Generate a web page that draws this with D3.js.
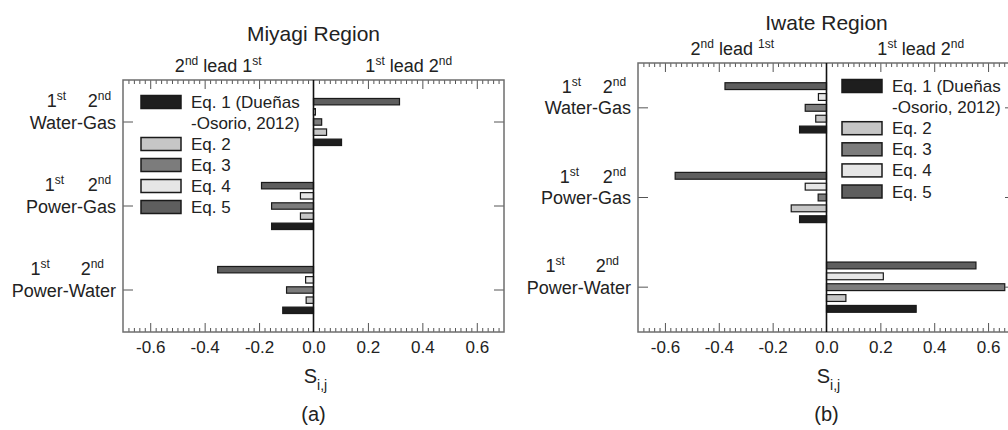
<!DOCTYPE html>
<html><head><meta charset="utf-8">
<script src="https://cdn.jsdelivr.net/npm/d3@7"></script>
<style>
body{margin:0;background:#fff}
svg{display:block}
text{font-family:"Liberation Sans",Arial,Helvetica,sans-serif;fill:#222}
</style>
</head><body>
<svg id="c" width="1008" height="430"></svg>
<script>
// ---------------- data ----------------
const categories = ["Water-Gas", "Power-Gas", "Power-Water"];
const seriesNames = ["Eq. 1", "Eq. 2", "Eq. 3", "Eq. 4", "Eq. 5"];
const legendLines = [["Eq. 1 (Dueñas", "-Osorio, 2012)"], ["Eq. 2"], ["Eq. 3"], ["Eq. 4"], ["Eq. 5"]];
const seriesColors = ["#1e1e1e", "#c6c6c6", "#7c7c7c", "#e6e6e6", "#5e5e5e"];
const xTickValues = [-0.6, -0.4, -0.2, 0.0, 0.2, 0.4, 0.6];
const xDomain = [-0.7, 0.7];

// Miyagi region (panel a), one value per category
const miyagiEq1 = [0.103, -0.154, -0.113];
const miyagiEq2 = [0.048, -0.048, -0.027];
const miyagiEq3 = [0.030, -0.154, -0.099];
const miyagiEq4 = [0.007, -0.048, -0.029];
const miyagiEq5 = [0.316, -0.191, -0.352];

// Iwate region (panel b)
const iwateEq1 = [-0.100, -0.100, 0.333];
const iwateEq2 = [-0.040, -0.131, 0.072];
const iwateEq3 = [-0.079, -0.031, 0.662];
const iwateEq4 = [-0.030, -0.079, 0.211];
const iwateEq5 = [-0.377, -0.562, 0.555];

// ---------------- drawing ----------------
const svg = d3.select("#c");

function supText(g, x, y, parts, anchor, size, supSize) {
  const t = g.append("text").attr("x", x).attr("y", y)
    .attr("text-anchor", anchor).style("font-size", size + "px");
  let raised = false;
  parts.forEach(([s, sup]) => {
    const ts = t.append("tspan").text(s);
    if (sup && !raised) { ts.attr("dy", -7).style("font-size", supSize + "px"); raised = true; }
    else if (sup) { ts.style("font-size", supSize + "px"); }
    else if (!sup && raised) { ts.attr("dy", 7); raised = false; }
  });
  return t;
}

function panel(cfg) {
  const g = svg.append("g");
  const x = d3.scaleLinear().domain(xDomain).range(cfg.xRange);
  const y = d3.scaleBand().domain(categories).range(cfg.yRange).padding(0);
  const bw = y.bandwidth();
  const step = bw * 0.121;
  const inner = d3.scaleBand().domain(seriesNames.slice().reverse())
    .range([-2.5 * step, 2.5 * step]).paddingInner(0.37).paddingOuter(0.185);
  const [x0, x1] = cfg.xRange, [y0, y1] = cfg.yRange;

  // bars
  seriesNames.forEach((s, si) => {
    const vals = cfg.series[si];
    g.selectAll(null).data(categories).enter().append("rect")
      .attr("x", (c, i) => x(Math.min(0, vals[i])))
      .attr("width", (c, i) => Math.abs(x(vals[i]) - x(0)))
      .attr("y", c => y(c) + bw / 2 + inner(s))
      .attr("height", inner.bandwidth())
      .attr("fill", seriesColors[si])
      .attr("stroke", "#1a1a1a").attr("stroke-width", 1.2);
  });

  // axes: minor + major ticks, inward
  const minor = d3.range(-35, 36).map(k => Math.round(k * 2) / 100).filter(v => v > -0.7 && v < 0.7 && Math.abs(Math.round(v * 100)) % 20 !== 0);
  const majors = xTickValues.filter(v => v !== 0);
  const mk = (axisFn, ty, vals, size, labels, pad) => {
    const a = axisFn(x).tickValues(vals).tickSizeInner(size).tickSizeOuter(0).tickPadding(pad || 3)
      .tickFormat(labels ? (d => d.toFixed(1)) : "");
    const ag = g.append("g").attr("transform", `translate(0,${ty})`).call(a);
    ag.select(".domain").remove();
    ag.selectAll("line").attr("stroke", "#555").attr("stroke-width", 1);
    ag.selectAll("text").style("font-size", "17px").attr("fill", "#222")
      .style("font-family", '"Liberation Sans",Arial,sans-serif');
    return ag;
  };
  mk(d3.axisTop, y0, minor, -4);
  mk(d3.axisTop, y0, majors, -9);
  mk(d3.axisBottom, y1, minor, -4);
  mk(d3.axisBottom, y1, majors, -9);
  // labels for bottom axis (including 0.0)
  const lab = d3.axisBottom(x).tickValues(xTickValues).tickSize(0).tickPadding(9).tickFormat(d => d.toFixed(1));
  const lg = g.append("g").attr("transform", `translate(0,${y1})`).call(lab);
  lg.select(".domain").remove();
  lg.selectAll("text").style("font-size", "17px").attr("fill", "#222")
    .style("font-family", '"Liberation Sans",Arial,sans-serif');

  // y ticks inward both sides
  [[d3.axisLeft, x0], [d3.axisRight, x1]].forEach(([fn, tx]) => {
    const ag = g.append("g").attr("transform", `translate(${tx},0)`)
      .call(fn(y).tickSizeInner(-10).tickSizeOuter(0).tickFormat(""));
    ag.select(".domain").remove();
    ag.selectAll("line").attr("stroke", "#555").attr("stroke-width", 1);
  });

  // frame
  g.append("rect").attr("x", x0).attr("y", y0).attr("width", x1 - x0).attr("height", y1 - y0)
    .attr("fill", "none").attr("stroke", "#6e6e6e").attr("stroke-width", 1.5);
  // zero line
  g.append("line").attr("x1", x(0)).attr("x2", x(0)).attr("y1", y0).attr("y2", y1)
    .attr("stroke", "#111").attr("stroke-width", 1.6);

  // category labels
  categories.forEach(c => {
    const cy = y(c) + bw / 2;
    const lx = x0 - 7;
    const t = g.append("text").attr("x", lx).attr("y", cy + 6.5).attr("text-anchor", "end")
      .style("font-size", "18px").text(c);
    const node = t.node();
    const W = node.getComputedTextLength();
    const dash = c.indexOf("-");
    const w1 = node.getSubStringLength(0, dash);
    const wDash = node.getSubStringLength(0, dash + 1);
    const start = lx - W;
    const c1 = start + w1 / 2 + 3;
    const c2 = start + wDash + (W - wDash) / 2;
    supText(g, c1, cy - 15, [["1", 0], ["st", 1]], "middle", 18, 12);
    supText(g, c2, cy - 15, [["2", 0], ["nd", 1]], "middle", 18, 12);
  });

  // title & lead labels
  g.append("text").attr("x", x(0)).attr("y", cfg.titleY).attr("text-anchor", "middle")
    .style("font-size", "21px").text(cfg.title);
  supText(g, x(-0.35), y0 - 8, cfg.leftLead, "middle", 18, 12);
  supText(g, x(0.35), y0 - 8, [["1", 0], ["st", 1], [" lead 2", 0], ["nd", 1]], "middle", 18, 12);

  // x title and panel letter
  const st = g.append("text").attr("x", x(0) + 2).attr("y", 383).attr("text-anchor", "middle")
    .style("font-size", "20px");
  st.append("tspan").text("S");
  st.append("tspan").attr("dy", 7).style("font-size", "14px").text("i,j");
  g.append("text").attr("x", x(0)).attr("y", 421).attr("text-anchor", "middle")
    .style("font-size", "20px").text(cfg.letter);

  // legend
  let row = 0;
  legendLines.forEach((lines, si) => {
    lines.forEach((ln, li) => {
      const cy = cfg.legendY + row * cfg.legendStep;
      if (li === 0) {
        g.append("rect").attr("x", cfg.legendX).attr("y", cy - 6.5).attr("width", 40).attr("height", 13)
          .attr("fill", seriesColors[si]).attr("stroke", "#1a1a1a").attr("stroke-width", 1.5);
      }
      g.append("text").attr("x", cfg.legendX + 50).attr("y", cy + 6).style("font-size", "17px").text(ln);
      row++;
    });
  });
}

panel({
  xRange: [123, 504], yRange: [80, 332],
  series: [miyagiEq1, miyagiEq2, miyagiEq3, miyagiEq4, miyagiEq5],
  title: "Miyagi Region", titleY: 41, letter: "(a)",
  leftLead: [["2", 0], ["nd", 1], [" lead 1", 0], ["st", 1]],
  legendX: 141, legendY: 102, legendStep: 21
});
panel({
  xRange: [638, 1015], yRange: [63, 332],
  series: [iwateEq1, iwateEq2, iwateEq3, iwateEq4, iwateEq5],
  title: "Iwate Region", titleY: 30, letter: "(b)",
  leftLead: [["2", 0], ["nd", 1], [" lead ", 0], ["1st", 1]],
  legendX: 842, legendY: 86, legendStep: 21.1
});
</script>
</body></html>
